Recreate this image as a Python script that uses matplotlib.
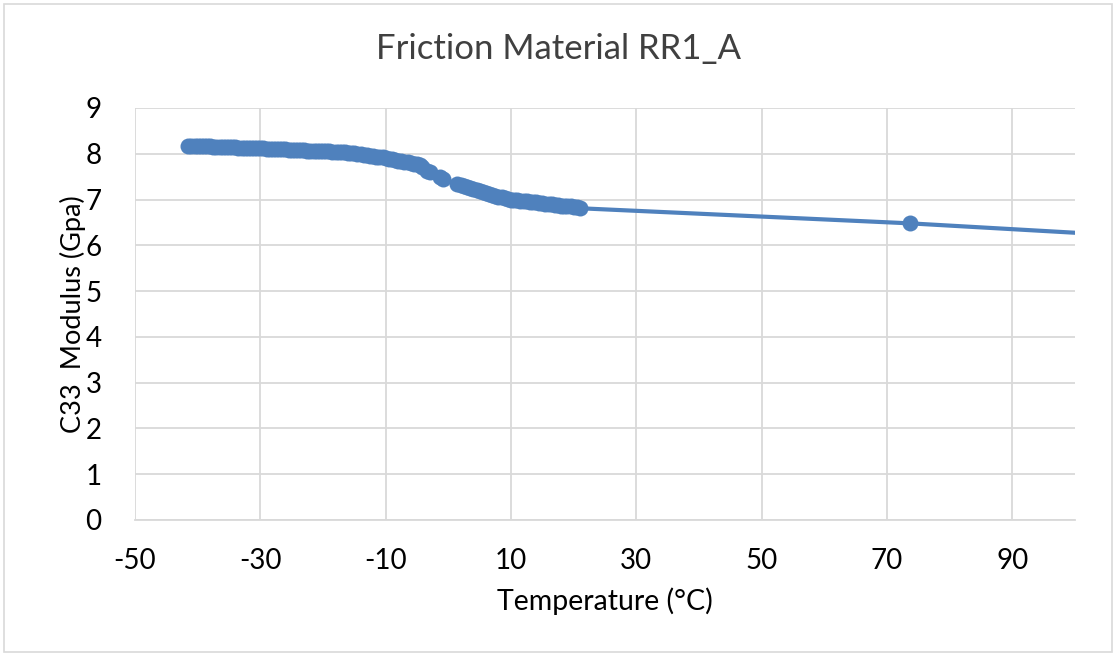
import matplotlib
matplotlib.use("Agg")
import matplotlib.pyplot as plt
from matplotlib.patches import Rectangle

title = "Friction Material RR1_A"
x_label = "Temperature (°C)"
y_label = "C33  Modulus (Gpa)"

temperature = [
    -41.5, -41.0, -40.5, -40.0, -39.5, -39.0, -38.5, -38.0, -37.5, -37.0,
    -36.5, -36.0, -35.5, -35.0, -34.5, -34.0, -33.5, -33.0, -32.5, -32.0,
    -31.5, -31.0, -30.5, -30.0, -29.5, -29.0, -28.5, -28.0, -27.5, -27.0,
    -26.5, -26.0, -25.5, -25.0, -24.5, -24.0, -23.5, -23.0, -22.5, -22.0,
    -21.5, -21.0, -20.5, -20.0, -19.5, -19.0, -18.5, -18.0, -17.5, -17.0,
    -16.5, -16.0, -15.5, -15.0, -14.5, -14.0, -13.5, -13.0, -12.5, -12.0,
    -11.5, -11.0, -10.5, -10.0, -9.5, -9.0, -8.5, -8.0, -7.5, -7.0,
    -6.5, -6.0, -5.5, -5.0, -4.5, -4.2,
    -3.4, -3.0, -1.4, -0.8, 1.4, 2.0,
    2.5, 3.0, 3.5, 4.0, 4.5, 5.0, 5.5, 6.0, 6.5, 7.0,
    7.5, 8.0, 8.5, 9.0, 9.5, 10.0, 10.5, 11.0, 11.5, 12.0,
    12.5, 13.0, 13.5, 14.0, 14.5, 15.0, 15.5, 16.0, 16.5, 17.0,
    17.5, 18.0, 18.5, 19.0, 19.5, 20.0, 20.5, 21.0,
    73.7, 125.0,
]
modulus = [
    8.17, 8.17, 8.17, 8.17, 8.16, 8.16, 8.16, 8.16, 8.15, 8.15,
    8.15, 8.15, 8.14, 8.14, 8.14, 8.14, 8.13, 8.13, 8.13, 8.13,
    8.13, 8.12, 8.12, 8.12, 8.12, 8.11, 8.11, 8.11, 8.10, 8.10,
    8.10, 8.10, 8.09, 8.09, 8.09, 8.08, 8.08, 8.08, 8.07, 8.07,
    8.07, 8.06, 8.06, 8.06, 8.05, 8.05, 8.04, 8.04, 8.04, 8.03,
    8.03, 8.02, 8.02, 8.01, 8.00, 7.99, 7.98, 7.97, 7.96, 7.95,
    7.94, 7.93, 7.92, 7.91, 7.89, 7.88, 7.87, 7.85, 7.84, 7.83,
    7.81, 7.80, 7.78, 7.77, 7.75, 7.72,
    7.63, 7.60, 7.49, 7.45, 7.34, 7.31,
    7.29, 7.27, 7.25, 7.23, 7.21, 7.19, 7.17, 7.14, 7.12, 7.10,
    7.08, 7.06, 7.05, 7.03, 7.02, 7.00, 6.99, 6.98, 6.97, 6.96,
    6.96, 6.95, 6.94, 6.94, 6.93, 6.92, 6.91, 6.90, 6.90, 6.89,
    6.88, 6.87, 6.87, 6.86, 6.85, 6.84, 6.83, 6.81,
    6.48, 6.08,
]
x_ticks = [-50, -30, -10, 10, 30, 50, 70, 90]
y_ticks = [0, 1, 2, 3, 4, 5, 6, 7, 8, 9]

plt.rcParams['font.family'] = ['Lato', 'DejaVu Sans']
plt.rcParams['axes.unicode_minus'] = False

fig = plt.figure(figsize=(11.16, 6.55), dpi=100)
fig.patch.set_facecolor('white')
fig.patches.append(Rectangle((0.004, 0.004), 0.992, 0.990, transform=fig.transFigure,
                             fill=False, edgecolor='#d9d9d9', linewidth=1.2))

ax = fig.add_axes([135 / 1116, 1 - 520 / 655, (1075 - 135) / 1116, (520 - 108) / 655])
color = '#4F81BD'
ax.plot(temperature, modulus, color=color, linewidth=3.0, marker='o',
        markersize=11.5, markeredgewidth=0, zorder=3)

ax.set_xlim(-50, 100)
ax.set_ylim(0, 9)
ax.set_xticks(x_ticks)
ax.set_yticks(y_ticks)
ax.grid(True, color='#d9d9d9', linewidth=1.3)
ax.set_axisbelow(True)
for s in ['top', 'right', 'left']:
    ax.spines[s].set_visible(False)
ax.spines['bottom'].set_color('#d9d9d9')
ax.spines['bottom'].set_linewidth(1.3)
ax.tick_params(axis='both', length=0, labelsize=20, colors='black')
ax.tick_params(axis='y', pad=24)
ax.tick_params(axis='x', pad=20)

ax.set_xlabel(x_label, fontsize=20.5, labelpad=10)
ax.set_ylabel(y_label, fontsize=19.5, labelpad=0)
fig.text(0.5, 1 - 49 / 655, title, ha='center', va='center', fontsize=25, color='#404040')

fig.savefig('out.png', dpi=100)
